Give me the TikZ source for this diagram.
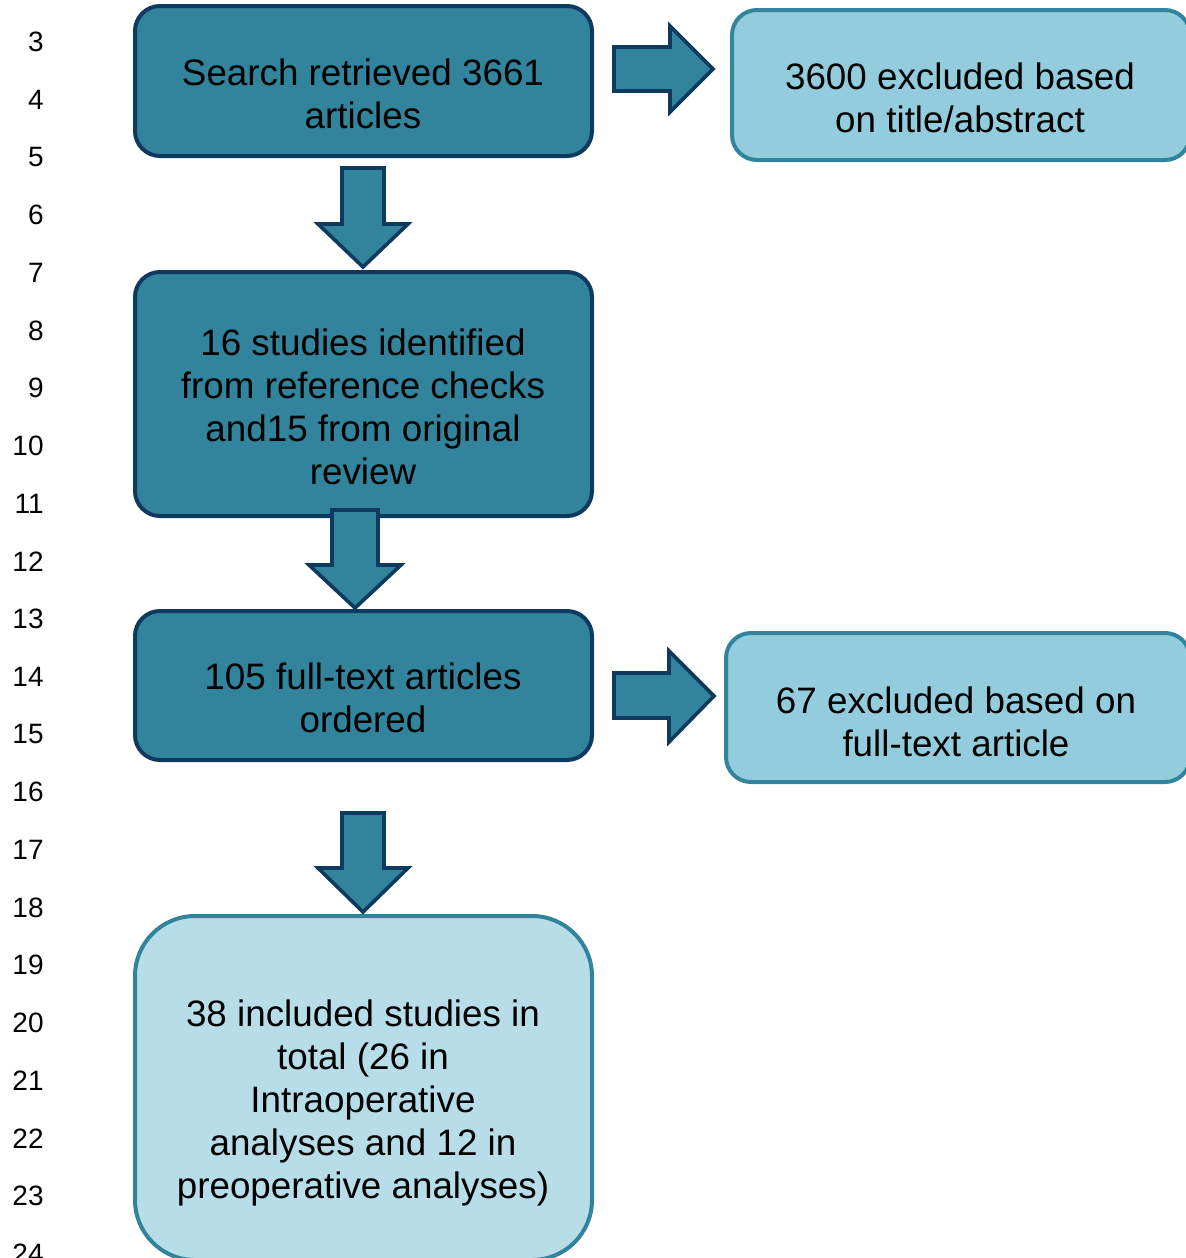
\documentclass[tikz,border=0pt]{standalone}
\usepackage{fontspec}
\setmainfont{Liberation Sans}
\definecolor{tealA}{HTML}{31849B}
\definecolor{navyA}{HTML}{0E3A5F}
\definecolor{lightA}{HTML}{93CDDD}
\definecolor{lightB}{HTML}{B7DEE8}
\begin{document}
\begin{tikzpicture}[x=0.5pt,y=-0.5pt,
  darkbox/.style={draw=navyA, fill=tealA, line width=2pt, rounded corners=12.5pt, inner sep=0pt},
  lightbox/.style={draw=tealA, fill=lightA, line width=2pt, rounded corners=12.5pt, inner sep=0pt},
  finalbox/.style={draw=tealA, fill=lightB, line width=2pt, rounded corners=30pt, inner sep=0pt},
  lbl/.style={font=\fontsize{18.4}{21.5}\selectfont, align=center, inner sep=0pt},
  linenum/.style={font=\fontsize{14}{16}\selectfont, anchor=east, inner sep=0pt},
  fatarrow/.style={draw=navyA, fill=tealA, line width=1.8pt, line join=miter}]
\useasboundingbox (0,0) rectangle (1186,1258);
% line numbers
\foreach \n in {3,...,24}{
  \node[linenum] (ln\n) at (44,{42+(\n-3)*57.7}) {\n};
}
% boxes
\node[darkbox, minimum width=228.5pt, minimum height=75pt] (b1) at (363.5,81) {};
\node[lbl] (t1) at (363,93.5) {Search retrieved 3661\\articles};
\node[lightbox, minimum width=229pt, minimum height=75pt] (r1) at (961,85) {};
\node[lbl] (tr1) at (960,98) {3600 excluded based\\on title/abstract};
\node[darkbox, minimum width=228.5pt, minimum height=122pt] (b2) at (363.5,394) {};
\node[lbl] (t2) at (363,406.5) {16 studies identified\\from reference checks\\and15 from original\\review};
\node[darkbox, minimum width=228.5pt, minimum height=74.5pt] (b3) at (363.5,685.5) {};
\node[lbl] (t3) at (363,698) {105 full-text articles\\ordered};
\node[lightbox, minimum width=232pt, minimum height=74.5pt] (r2) at (958,707.5) {};
\node[lbl] (tr2) at (956,721.5) {67 excluded based on\\full-text article};
\node[finalbox, minimum width=228.5pt, minimum height=172pt] (b4) at (363.5,1088) {};
\node[lbl] (t4) at (363,1103) {38 included studies in\\total (26 in\\Intraoperative\\analyses and 12 in\\preoperative analyses)};
% arrows
\draw[fatarrow] (614,47) -- (670,47) -- (670,26) -- (713,69) -- (670,112) -- (670,91) -- (614,91) -- cycle;
\draw[fatarrow] (614,673) -- (669,673) -- (669,651) -- (714,696) -- (669,742) -- (669,718) -- (614,718) -- cycle;
\draw[fatarrow] (342,168) -- (384,168) -- (384,224) -- (408,224) -- (363,267) -- (318,224) -- (342,224) -- cycle;
\draw[fatarrow] (332,510) -- (378,510) -- (378,565) -- (401,565) -- (355,608) -- (309,565) -- (332,565) -- cycle;
\draw[fatarrow] (342,813) -- (384,813) -- (384,868) -- (408,868) -- (363,912) -- (318,868) -- (342,868) -- cycle;
\end{tikzpicture}
\end{document}
